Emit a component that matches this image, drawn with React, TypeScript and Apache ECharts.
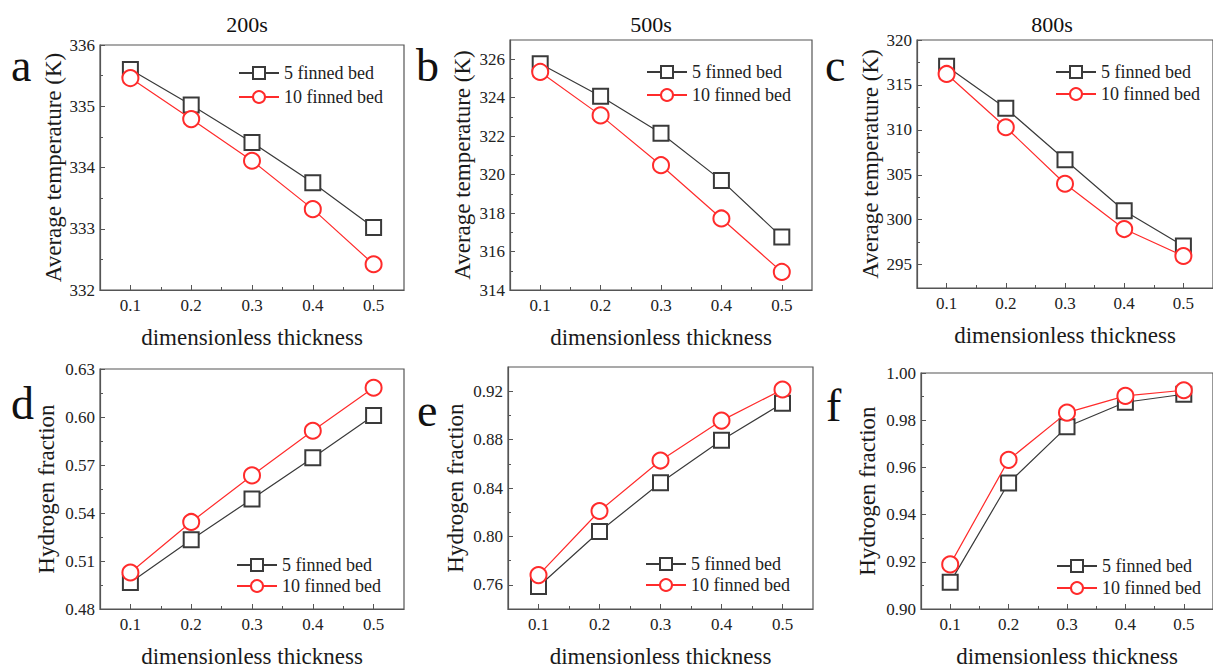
import React, { useEffect, useRef } from "react";
import * as echarts from "echarts";

// ---------- data ----------
const thickness = [0.1, 0.2, 0.3, 0.4, 0.5];
const xTickLabels = [0.1, 0.2, 0.3, 0.4, 0.5];
const xMinorTicks = [0.15, 0.25, 0.35, 0.45];

const seriesNames = ["5 finned bed", "10 finned bed"];
const timeTitles = ["200s", "500s", "800s"];
const panelLetters = ["a", "b", "c", "d", "e", "f"];

const temp200s5 = [335.6, 335.02, 334.41, 333.75, 333.02];
const temp200s10 = [335.46, 334.79, 334.11, 333.32, 332.42];
const temp500s5 = [325.77, 324.08, 322.15, 319.7, 316.75];
const temp500s10 = [325.34, 323.08, 320.49, 317.72, 314.94];
const temp800s5 = [317.07, 312.4, 306.67, 301.0, 297.07];
const temp800s10 = [316.22, 310.29, 304.0, 298.96, 295.96];

const h2200s5 = [0.4966, 0.5233, 0.5488, 0.5746, 0.6009];
const h2200s10 = [0.5028, 0.5344, 0.5635, 0.5914, 0.6183];
const h2500s5 = [0.7586, 0.804, 0.8443, 0.8795, 0.91];
const h2500s10 = [0.768, 0.821, 0.8627, 0.8957, 0.9214];
const h2800s5 = [0.9113, 0.9534, 0.9772, 0.9876, 0.991];
const h2800s10 = [0.9189, 0.9632, 0.9832, 0.9903, 0.9927];

const yTicksA = [332, 333, 334, 335, 336];
const yMinorA = [332.5, 333.5, 334.5, 335.5];
const yTicksB = [314, 316, 318, 320, 322, 324, 326];
const yMinorB = [315, 317, 319, 321, 323, 325];
const yTicksC = [295, 300, 305, 310, 315, 320];
const yMinorC = [297.5, 302.5, 307.5, 312.5, 317.5];
const yTicksD = [0.48, 0.51, 0.54, 0.57, 0.6, 0.63];
const yMinorD = [0.495, 0.525, 0.555, 0.585, 0.615];
const yTicksE = [0.76, 0.8, 0.84, 0.88, 0.92];
const yMinorE = [0.78, 0.82, 0.86, 0.9];
const yTicksF = [0.9, 0.92, 0.94, 0.96, 0.98, 1.0];
const yMinorF = [0.91, 0.93, 0.95, 0.97, 0.99];

const FONT = "Liberation Serif";
const DARK = "#3a3a3a";
const RED = "#ff2b2b";
const AXIS = "#555555";

type Panel = {
  s5: number[];
  s10: number[];
  yMin: number;
  yMax: number;
  yTicks: number[];
  yMinor: number[];
  dec: number;
  yName: string;
  grid: { left: number; top: number; width: number; height: number };
  legend: { left: number; top: number; gap: number };
  letter: { x: number; y: number };
  yNameGap: number;
};

const panels: Panel[] = [
  {
    s5: temp200s5, s10: temp200s10, yMin: 332, yMax: 336, yTicks: yTicksA, yMinor: yMinorA, dec: 0,
    yName: "Average temperature (K)",
    grid: { left: 100, top: 45, width: 304, height: 245 },
    legend: { left: 238, top: 64, gap: 6 }, letter: { x: 11, y: 65 }, yNameGap: 35,
  },
  {
    s5: temp500s5, s10: temp500s10, yMin: 314, yMax: 327, yTicks: yTicksB, yMinor: yMinorB, dec: 0,
    yName: "Average temperature (K)",
    grid: { left: 510, top: 40, width: 302, height: 250 },
    legend: { left: 646, top: 63, gap: 5 }, letter: { x: 416, y: 65 }, yNameGap: 36,
  },
  {
    s5: temp800s5, s10: temp800s10, yMin: 292.4, yMax: 320, yTicks: yTicksC, yMinor: yMinorC, dec: 0,
    yName: "Average temperature (K)",
    grid: { left: 917, top: 40, width: 304, height: 248 },
    legend: { left: 1055, top: 63, gap: 4 }, letter: { x: 825, y: 65 }, yNameGap: 35,
  },
  {
    s5: h2200s5, s10: h2200s10, yMin: 0.48, yMax: 0.63, yTicks: yTicksD, yMinor: yMinorD, dec: 2,
    yName: "Hydrogen fraction",
    grid: { left: 100, top: 369, width: 304, height: 244 },
    legend: { left: 236, top: 556, gap: 3 }, letter: { x: 11, y: 403 }, yNameGap: 42,
  },
  {
    s5: h2500s5, s10: h2500s10, yMin: 0.74, yMax: 0.94, yTicks: yTicksE, yMinor: yMinorE, dec: 2,
    yName: "Hydrogen fraction",
    grid: { left: 508, top: 367, width: 305, height: 246 },
    legend: { left: 645, top: 555, gap: 3 }, letter: { x: 417, y: 410 }, yNameGap: 41,
  },
  {
    s5: h2800s5, s10: h2800s10, yMin: 0.9, yMax: 1.0, yTicks: yTicksF, yMinor: yMinorF, dec: 2,
    yName: "Hydrogen fraction",
    grid: { left: 921, top: 373, width: 302, height: 242 },
    legend: { left: 1056, top: 557, gap: 4 }, letter: { x: 826, y: 405 }, yNameGap: 42,
  },
];

const titleCenters = [247, 651, 1052];

function buildOption() {
  const grid: any[] = [];
  const xAxis: any[] = [];
  const yAxis: any[] = [];
  const series: any[] = [];
  const legend: any[] = [];
  const graphic: any[] = [];

  panels.forEach((p, i) => {
    grid.push({
      ...p.grid,
      show: true,
      borderColor: AXIS,
      borderWidth: 1.2,
      backgroundColor: "transparent",
      containLabel: false,
    });
    xAxis.push({
      type: "value",
      gridIndex: i,
      position: "bottom",
      min: 0.05,
      max: 0.55,
      name: "dimensionless thickness",
      nameLocation: "middle",
      nameGap: 36,
      nameTextStyle: { fontFamily: FONT, fontSize: 23, color: "#1a1a1a" },
      axisLine: { show: true, lineStyle: { color: AXIS, width: 1.2 } },
      axisTick: { show: true, inside: true, length: 5, customValues: xTickLabels, lineStyle: { color: AXIS } },
      axisLabel: {
        customValues: xTickLabels,
        formatter: (v: number) => v.toFixed(1),
        fontFamily: FONT,
        fontSize: 17,
        color: "#222",
        margin: 7,
      },
      splitLine: { show: false },
    });
    xAxis.push({
      type: "value",
      gridIndex: i,
      position: "bottom",
      min: 0.05,
      max: 0.55,
      axisLine: { show: false },
      axisTick: { show: true, inside: true, length: 3, customValues: xMinorTicks, lineStyle: { color: AXIS } },
      axisLabel: { show: false },
      splitLine: { show: false },
    });
    yAxis.push({
      type: "value",
      gridIndex: i,
      position: "left",
      min: p.yMin,
      max: p.yMax,
      name: p.yName,
      nameLocation: "middle",
      nameGap: p.yNameGap,
      nameTextStyle: { fontFamily: FONT, fontSize: 23, color: "#1a1a1a" },
      axisLine: { show: true, lineStyle: { color: AXIS, width: 1.2 } },
      axisTick: { show: true, inside: true, length: 5, customValues: p.yTicks, lineStyle: { color: AXIS } },
      axisLabel: {
        customValues: p.yTicks,
        formatter: (v: number) => v.toFixed(p.dec),
        fontFamily: FONT,
        fontSize: 17,
        color: "#222",
        margin: 5,
      },
      splitLine: { show: false },
    });
    yAxis.push({
      type: "value",
      gridIndex: i,
      position: "left",
      min: p.yMin,
      max: p.yMax,
      axisLine: { show: false },
      axisTick: { show: true, inside: true, length: 3, customValues: p.yMinor, lineStyle: { color: AXIS } },
      axisLabel: { show: false },
      splitLine: { show: false },
    });

    series.push({
      type: "line",
      name: seriesNames[0],
      xAxisIndex: 2 * i,
      yAxisIndex: 2 * i,
      data: thickness.map((x, k) => [x, p.s5[k]]),
      symbol: "rect",
      symbolSize: 15,
      lineStyle: { color: DARK, width: 1.2 },
      itemStyle: { color: "#ffffff", borderColor: DARK, borderWidth: 2 },
      z: 2,
    });
    series.push({
      type: "line",
      name: seriesNames[1],
      xAxisIndex: 2 * i,
      yAxisIndex: 2 * i,
      data: thickness.map((x, k) => [x, p.s10[k]]),
      symbol: "circle",
      symbolSize: 16,
      lineStyle: { color: RED, width: 1.2 },
      itemStyle: { color: "#ffffff", borderColor: RED, borderWidth: 2 },
      z: 3,
    });

    legend.push({
      orient: "vertical",
      left: p.legend.left,
      top: p.legend.top,
      itemGap: p.legend.gap,
      itemWidth: 40,
      itemHeight: 15,
      padding: 0,
      data: seriesNames,
      textStyle: { fontFamily: FONT, fontSize: 18, color: "#222" },
      selectedMode: false,
    });

    graphic.push({
      type: "text",
      x: p.letter.x,
      y: p.letter.y,
      style: {
        text: panelLetters[i],
        fontFamily: FONT,
        fontSize: 46,
        fill: "#111",
        align: "left",
        verticalAlign: "middle",
      },
    });
  });

  timeTitles.forEach((t, i) => {
    graphic.push({
      type: "text",
      x: titleCenters[i],
      y: 24,
      style: {
        text: t,
        fontFamily: FONT,
        fontSize: 22,
        fill: "#111",
        align: "center",
        verticalAlign: "middle",
      },
    });
  });

  return {
    animation: false,
    backgroundColor: "#ffffff",
    textStyle: { fontFamily: FONT },
    grid,
    xAxis,
    yAxis,
    series,
    legend,
    graphic,
  };
}

export default function App() {
  const ref = useRef<HTMLDivElement>(null);
  useEffect(() => {
    if (!ref.current) return;
    const chart = echarts.init(ref.current, undefined, { renderer: "svg" });
    chart.setOption(buildOption() as any);
    return () => chart.dispose();
  }, []);
  return (
    <div
      ref={ref}
      style={{ position: "absolute", left: 0, top: 0, width: 1213, height: 669 }}
    />
  );
}
